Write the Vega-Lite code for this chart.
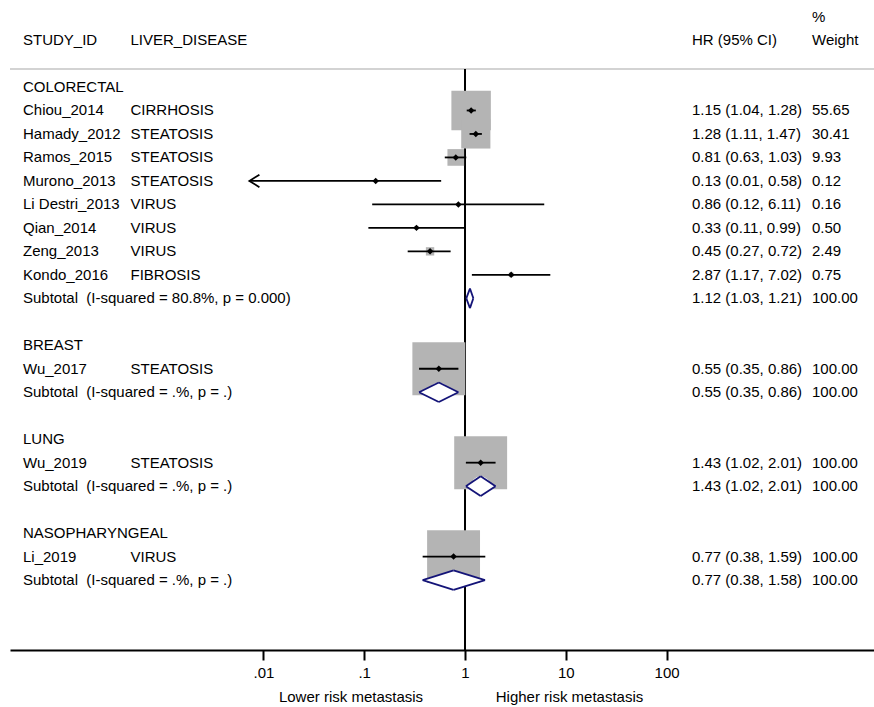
{
  "$schema": "https://vega.github.io/schema/vega-lite/v6.json",
  "width": 864,
  "height": 650,
  "autosize": {"type": "none"},
  "padding": {"left": 10, "top": 0, "right": 0, "bottom": 57},
  "background": "white",
  "config": {
    "view": {"stroke": null},
    "font": "Liberation Sans",
    "axisX": {"grid": false, "domainColor": "black", "domainWidth": 2, "tickColor": "black", "tickWidth": 2, "tickSize": 10, "labelFontSize": 15, "labelColor": "black", "labelFont": "Liberation Sans", "labelPadding": 5, "labelFlush": false, "labelOverlap": false}
  },
  "data": {"values": [
    {"row": -3, "type": "header0", "wText": "%"},
    {"row": -2, "type": "header", "study": "STUDY_ID", "disease": "LIVER_DISEASE", "hrText": "HR (95% CI)", "wText": "Weight"},
    {"row": 0, "type": "group", "group": "COLORECTAL", "study": "COLORECTAL"},
    {"row": 1, "type": "study", "group": "COLORECTAL", "study": "Chiou_2014", "disease": "CIRRHOSIS", "hr": 1.15, "lo": 1.04, "hi": 1.28, "weight": 55.65, "hrText": "1.15 (1.04, 1.28)", "wText": "55.65"},
    {"row": 2, "type": "study", "group": "COLORECTAL", "study": "Hamady_2012", "disease": "STEATOSIS", "hr": 1.28, "lo": 1.11, "hi": 1.47, "weight": 30.41, "hrText": "1.28 (1.11, 1.47)", "wText": "30.41"},
    {"row": 3, "type": "study", "group": "COLORECTAL", "study": "Ramos_2015", "disease": "STEATOSIS", "hr": 0.81, "lo": 0.63, "hi": 1.03, "weight": 9.93, "hrText": "0.81 (0.63, 1.03)", "wText": "9.93"},
    {"row": 4, "type": "study", "group": "COLORECTAL", "study": "Murono_2013", "disease": "STEATOSIS", "hr": 0.13, "lo": 0.01, "hi": 0.58, "weight": 0.12, "hrText": "0.13 (0.01, 0.58)", "wText": "0.12"},
    {"row": 5, "type": "study", "group": "COLORECTAL", "study": "Li Destri_2013", "disease": "VIRUS", "hr": 0.86, "lo": 0.12, "hi": 6.11, "weight": 0.16, "hrText": "0.86 (0.12, 6.11)", "wText": "0.16"},
    {"row": 6, "type": "study", "group": "COLORECTAL", "study": "Qian_2014", "disease": "VIRUS", "hr": 0.33, "lo": 0.11, "hi": 0.99, "weight": 0.5, "hrText": "0.33 (0.11, 0.99)", "wText": "0.50"},
    {"row": 7, "type": "study", "group": "COLORECTAL", "study": "Zeng_2013", "disease": "VIRUS", "hr": 0.45, "lo": 0.27, "hi": 0.72, "weight": 2.49, "hrText": "0.45 (0.27, 0.72)", "wText": "2.49"},
    {"row": 8, "type": "study", "group": "COLORECTAL", "study": "Kondo_2016", "disease": "FIBROSIS", "hr": 2.87, "lo": 1.17, "hi": 7.02, "weight": 0.75, "hrText": "2.87 (1.17, 7.02)", "wText": "0.75"},
    {"row": 9, "type": "subtotal", "group": "COLORECTAL", "study": "Subtotal\u00a0 (I-squared = 80.8%, p = 0.000)", "hr": 1.12, "lo": 1.03, "hi": 1.21, "weight": 100, "hrText": "1.12 (1.03, 1.21)", "wText": "100.00"},
    {"row": 11, "type": "group", "group": "BREAST", "study": "BREAST"},
    {"row": 12, "type": "study", "group": "BREAST", "study": "Wu_2017", "disease": "STEATOSIS", "hr": 0.55, "lo": 0.35, "hi": 0.86, "weight": 100, "hrText": "0.55 (0.35, 0.86)", "wText": "100.00"},
    {"row": 13, "type": "subtotal", "group": "BREAST", "study": "Subtotal\u00a0 (I-squared = .%, p = .)", "hr": 0.55, "lo": 0.35, "hi": 0.86, "weight": 100, "hrText": "0.55 (0.35, 0.86)", "wText": "100.00"},
    {"row": 15, "type": "group", "group": "LUNG", "study": "LUNG"},
    {"row": 16, "type": "study", "group": "LUNG", "study": "Wu_2019", "disease": "STEATOSIS", "hr": 1.43, "lo": 1.02, "hi": 2.01, "weight": 100, "hrText": "1.43 (1.02, 2.01)", "wText": "100.00"},
    {"row": 17, "type": "subtotal", "group": "LUNG", "study": "Subtotal\u00a0 (I-squared = .%, p = .)", "hr": 1.43, "lo": 1.02, "hi": 2.01, "weight": 100, "hrText": "1.43 (1.02, 2.01)", "wText": "100.00"},
    {"row": 19, "type": "group", "group": "NASOPHARYNGEAL", "study": "NASOPHARYNGEAL"},
    {"row": 20, "type": "study", "group": "NASOPHARYNGEAL", "study": "Li_2019", "disease": "VIRUS", "hr": 0.77, "lo": 0.38, "hi": 1.59, "weight": 100, "hrText": "0.77 (0.38, 1.59)", "wText": "100.00"},
    {"row": 21, "type": "subtotal", "group": "NASOPHARYNGEAL", "study": "Subtotal\u00a0 (I-squared = .%, p = .)", "hr": 0.77, "lo": 0.38, "hi": 1.58, "weight": 100, "hrText": "0.77 (0.38, 1.58)", "wText": "100.00"}
  ]},
  "layer": [
    {
      "transform": [{"filter": "datum.type === 'study'"}],
      "mark": {"type": "point", "shape": "square", "filled": true, "color": "#ffffff", "opacity": 0},
      "encoding": {
        "x": {"field": "hr", "type": "quantitative", "scale": {"type": "log", "domain": [3.062e-5, 11416], "nice": false},
          "axis": {"values": [0.01, 0.1, 1, 10, 100], "title": null, "grid": false, "domainColor": "black", "domainWidth": 2, "tickColor": "black", "tickWidth": 2, "tickSize": 10, "labelFontSize": 15, "labelColor": "black", "labelFont": "Liberation Sans", "labelPadding": 5, "labelFlush": false, "labelOverlap": false,
            "labelExpr": "datum.value < 0.05 ? '.01' : datum.value < 0.5 ? '.1' : datum.value < 5 ? '1' : datum.value < 50 ? '10' : '100'"}},
        "y": {"field": "row", "type": "quantitative", "scale": {"domain": [-3.705, 23.978], "reverse": true, "nice": false, "zero": false}, "axis": null}
      }
    },
    {
      "transform": [{"filter": "datum.type === 'header'"}],
      "mark": {"type": "rule", "color": "#c4c4c4", "strokeWidth": 1.5},
      "encoding": {"y": {"datum": -0.77, "type": "quantitative", "scale": {"reverse": true, "nice": false, "zero": false}, "axis": null}}
    },
    {
      "transform": [{"filter": "datum.type === 'header'"}],
      "mark": {"type": "rule", "color": "black", "strokeWidth": 2},
      "encoding": {
        "x": {"datum": 1, "type": "quantitative", "scale": {"type": "log", "nice": false}},
        "y": {"datum": -0.77, "type": "quantitative", "scale": {"reverse": true, "nice": false, "zero": false}, "axis": null},
        "y2": {"datum": 23.978}
      }
    },
    {
      "transform": [{"filter": "datum.type === 'study'"}],
      "mark": {"type": "point", "shape": "square", "filled": true, "color": "#b4b4b4", "opacity": 1},
      "encoding": {
        "x": {"field": "hr", "type": "quantitative", "scale": {"type": "log", "domain": [3.062e-5, 11416], "nice": false}},
        "y": {"field": "row", "type": "quantitative", "scale": {"domain": [-3.705, 23.978], "reverse": true, "nice": false, "zero": false}, "axis": null},
        "size": {"field": "weight", "type": "quantitative", "scale": {"domain": [0, 100], "range": [0, 2800], "zero": true}, "legend": null}
      }
    },
    {
      "transform": [{"filter": "datum.type === 'study' && datum.study !== 'Murono_2013'"}],
      "mark": {"type": "rule", "color": "black", "strokeWidth": 1.8},
      "encoding": {
        "x": {"field": "lo", "type": "quantitative", "scale": {"type": "log", "domain": [3.062e-5, 11416], "nice": false}},
        "x2": {"field": "hi"},
        "y": {"field": "row", "type": "quantitative", "scale": {"domain": [-3.705, 23.978], "reverse": true, "nice": false, "zero": false}, "axis": null}
      }
    },
    {
      "transform": [{"filter": "datum.study === 'Murono_2013'"}],
      "mark": {"type": "rule", "color": "black", "strokeWidth": 1.8, "xOffset": -14},
      "encoding": {
        "x": {"field": "lo", "type": "quantitative", "scale": {"type": "log", "domain": [3.062e-5, 11416], "nice": false}},
        "x2": {"field": "hi"},
        "y": {"field": "row", "type": "quantitative", "scale": {"domain": [-3.705, 23.978], "reverse": true, "nice": false, "zero": false}, "axis": null}
      }
    },
    {
      "transform": [{"filter": "datum.study === 'Murono_2013'"}],
      "mark": {"type": "point", "shape": "M4,-2.5L0,0L4,2.5", "size": 25, "filled": false, "stroke": "black", "strokeWidth": 1.8, "opacity": 1, "xOffset": -14},
      "encoding": {
        "x": {"field": "lo", "type": "quantitative", "scale": {"type": "log", "domain": [3.062e-5, 11416], "nice": false}},
        "y": {"field": "row", "type": "quantitative", "scale": {"domain": [-3.705, 23.978], "reverse": true, "nice": false, "zero": false}, "axis": null}
      }
    },
    {
      "transform": [{"filter": "datum.type === 'study'"}],
      "mark": {"type": "point", "shape": "diamond", "filled": true, "color": "black", "size": 42, "opacity": 1},
      "encoding": {
        "x": {"field": "hr", "type": "quantitative", "scale": {"type": "log", "domain": [3.062e-5, 11416], "nice": false}},
        "y": {"field": "row", "type": "quantitative", "scale": {"domain": [-3.705, 23.978], "reverse": true, "nice": false, "zero": false}, "axis": null}
      }
    },
    {
      "transform": [
        {"filter": "datum.type === 'subtotal' && datum.group !== 'COLORECTAL'"},
        {"fold": ["lo", "hr", "hi"], "as": ["key", "xv"]}
      ],
      "mark": {"type": "trail", "color": "white", "opacity": 1},
      "encoding": {
        "x": {"field": "xv", "type": "quantitative", "scale": {"type": "log", "domain": [3.062e-5, 11416], "nice": false}},
        "y": {"field": "row", "type": "quantitative", "scale": {"domain": [-3.705, 23.978], "reverse": true, "nice": false, "zero": false}, "axis": null},
        "detail": {"field": "group", "type": "nominal"},
        "size": {"condition": {"test": "datum.key === 'hr'", "value": 19.6}, "value": 0}
      }
    },
    {
      "transform": [{"filter": "datum.type === 'subtotal'"}],
      "mark": {"type": "rule", "color": "#141478", "strokeWidth": 1.8, "y2Offset": -9.8},
      "encoding": {
        "x": {"field": "lo", "type": "quantitative", "scale": {"type": "log", "domain": [3.062e-5, 11416], "nice": false}},
        "x2": {"field": "hr"},
        "y": {"field": "row", "type": "quantitative", "scale": {"domain": [-3.705, 23.978], "reverse": true, "nice": false, "zero": false}, "axis": null},
        "y2": {"field": "row"}
      }
    },
    {
      "transform": [{"filter": "datum.type === 'subtotal'"}],
      "mark": {"type": "rule", "color": "#141478", "strokeWidth": 1.8, "y2Offset": 9.8},
      "encoding": {
        "x": {"field": "lo", "type": "quantitative", "scale": {"type": "log", "domain": [3.062e-5, 11416], "nice": false}},
        "x2": {"field": "hr"},
        "y": {"field": "row", "type": "quantitative", "scale": {"domain": [-3.705, 23.978], "reverse": true, "nice": false, "zero": false}, "axis": null},
        "y2": {"field": "row"}
      }
    },
    {
      "transform": [{"filter": "datum.type === 'subtotal'"}],
      "mark": {"type": "rule", "color": "#141478", "strokeWidth": 1.8, "yOffset": -9.8},
      "encoding": {
        "x": {"field": "hr", "type": "quantitative", "scale": {"type": "log", "domain": [3.062e-5, 11416], "nice": false}},
        "x2": {"field": "hi"},
        "y": {"field": "row", "type": "quantitative", "scale": {"domain": [-3.705, 23.978], "reverse": true, "nice": false, "zero": false}, "axis": null},
        "y2": {"field": "row"}
      }
    },
    {
      "transform": [{"filter": "datum.type === 'subtotal'"}],
      "mark": {"type": "rule", "color": "#141478", "strokeWidth": 1.8, "yOffset": 9.8},
      "encoding": {
        "x": {"field": "hr", "type": "quantitative", "scale": {"type": "log", "domain": [3.062e-5, 11416], "nice": false}},
        "x2": {"field": "hi"},
        "y": {"field": "row", "type": "quantitative", "scale": {"domain": [-3.705, 23.978], "reverse": true, "nice": false, "zero": false}, "axis": null},
        "y2": {"field": "row"}
      }
    },
    {
      "transform": [{"filter": "isValid(datum.study)"}],
      "mark": {"type": "text", "align": "left", "baseline": "middle", "fontSize": 15, "font": "Liberation Sans", "color": "black"},
      "encoding": {
        "x": {"datum": 4.12e-5, "type": "quantitative", "scale": {"type": "log", "nice": false}},
        "y": {"field": "row", "type": "quantitative", "scale": {"domain": [-3.705, 23.978], "reverse": true, "nice": false, "zero": false}, "axis": null},
        "text": {"field": "study", "type": "nominal"}
      }
    },
    {
      "transform": [{"filter": "isValid(datum.disease)"}],
      "mark": {"type": "text", "align": "left", "baseline": "middle", "fontSize": 15, "font": "Liberation Sans", "color": "black"},
      "encoding": {
        "x": {"datum": 4.8e-4, "type": "quantitative", "scale": {"type": "log", "nice": false}},
        "y": {"field": "row", "type": "quantitative", "scale": {"domain": [-3.705, 23.978], "reverse": true, "nice": false, "zero": false}, "axis": null},
        "text": {"field": "disease", "type": "nominal"}
      }
    },
    {
      "transform": [{"filter": "isValid(datum.hrText)"}],
      "mark": {"type": "text", "align": "left", "baseline": "middle", "fontSize": 15, "font": "Liberation Sans", "color": "black"},
      "encoding": {
        "x": {"datum": 178.6, "type": "quantitative", "scale": {"type": "log", "nice": false}},
        "y": {"field": "row", "type": "quantitative", "scale": {"domain": [-3.705, 23.978], "reverse": true, "nice": false, "zero": false}, "axis": null},
        "text": {"field": "hrText", "type": "nominal"}
      }
    },
    {
      "transform": [{"filter": "isValid(datum.wText)"}],
      "mark": {"type": "text", "align": "left", "baseline": "middle", "fontSize": 15, "font": "Liberation Sans", "color": "black"},
      "encoding": {
        "x": {"datum": 2770, "type": "quantitative", "scale": {"type": "log", "nice": false}},
        "y": {"field": "row", "type": "quantitative", "scale": {"domain": [-3.705, 23.978], "reverse": true, "nice": false, "zero": false}, "axis": null},
        "text": {"field": "wText", "type": "nominal"}
      }
    },
    {
      "transform": [{"filter": "datum.type === 'header'"}],
      "mark": {"type": "text", "align": "center", "baseline": "middle", "fontSize": 15, "font": "Liberation Sans", "color": "black"},
      "encoding": {
        "x": {"datum": 0.074, "type": "quantitative", "scale": {"type": "log", "nice": false}},
        "y": {"datum": 25.96, "type": "quantitative", "scale": {"reverse": true, "nice": false, "zero": false}, "axis": null},
        "text": {"value": "Lower risk metastasis"}
      }
    },
    {
      "transform": [{"filter": "datum.type === 'header'"}],
      "mark": {"type": "text", "align": "center", "baseline": "middle", "fontSize": 15, "font": "Liberation Sans", "color": "black"},
      "encoding": {
        "x": {"datum": 10.88, "type": "quantitative", "scale": {"type": "log", "nice": false}},
        "y": {"datum": 25.96, "type": "quantitative", "scale": {"reverse": true, "nice": false, "zero": false}, "axis": null},
        "text": {"value": "Higher risk metastasis"}
      }
    }
  ]
}
